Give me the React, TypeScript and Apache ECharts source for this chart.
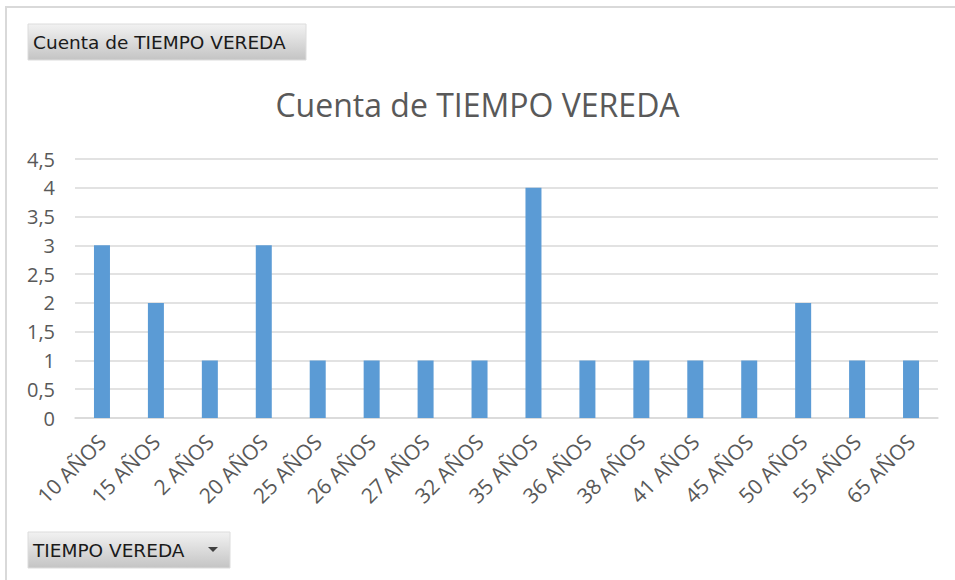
import React, { useEffect, useRef } from "react";
import * as echarts from "echarts";

const categories = [
  "10 AÑOS", "15 AÑOS", "2 AÑOS", "20 AÑOS", "25 AÑOS", "26 AÑOS", "27 AÑOS", "32 AÑOS",
  "35 AÑOS", "36 AÑOS", "38 AÑOS", "41 AÑOS", "45 AÑOS", "50 AÑOS", "55 AÑOS", "65 AÑOS",
];
const counts = [3, 2, 1, 3, 1, 1, 1, 1, 4, 1, 1, 1, 1, 2, 1, 1];
const titleText = "Cuenta de TIEMPO VEREDA";
const valueButtonText = "Cuenta de TIEMPO VEREDA";
const fieldButtonText = "TIEMPO VEREDA";

const FONT = "'Open Sans', 'Noto Sans', sans-serif";
const BTN_FONT = "'DejaVu Sans', sans-serif";

export default function App() {
  const ref = useRef<HTMLDivElement>(null);
  useEffect(() => {
    const chart = echarts.init(ref.current!, null, { renderer: "svg" });
    const btnFill = new echarts.graphic.LinearGradient(0, 0, 0, 1, [
      { offset: 0, color: "#f2f2f2" },
      { offset: 1, color: "#c4c4c4" },
    ]);
    chart.setOption({
      animation: false,
      backgroundColor: "#ffffff",
      title: {
        text: titleText,
        left: "center",
        top: 83,
        textStyle: { fontFamily: FONT, fontSize: 32, fontWeight: "normal", color: "#595959" },
      },
      grid: { left: 75, right: 17, top: 159, bottom: 162, containLabel: false },
      xAxis: {
        type: "category",
        data: categories,
        axisLine: { lineStyle: { color: "#d9d9d9", width: 1.5 } },
        axisTick: { show: false },
        axisLabel: {
          rotate: 45,
          interval: 0,
          fontFamily: FONT,
          fontSize: 21,
          color: "#595959",
          margin: 20,
        },
      },
      yAxis: {
        type: "value",
        min: 0,
        max: 4.5,
        interval: 0.5,
        axisLine: { show: false },
        axisTick: { show: false },
        splitLine: { lineStyle: { color: "#d9d9d9", width: 1.5 } },
        axisLabel: {
          fontFamily: FONT,
          fontSize: 20,
          color: "#595959",
          margin: 20,
          formatter: (v: number) => String(v).replace(".", ","),
        },
      },
      series: [
        {
          type: "bar",
          data: counts,
          barWidth: 16,
          itemStyle: { color: "#5b9bd5" },
        },
      ],
      graphic: [
        {
          type: "rect",
          shape: { x: 6, y: 7, width: 970, height: 600 },
          style: { fill: "none", stroke: "#d9d9d9", lineWidth: 2 },
          silent: true,
        },
        {
          type: "group",
          children: [
            {
              type: "rect",
              shape: { x: 28, y: 24, width: 278, height: 36 },
              style: { fill: btnFill, stroke: "#dcdcdc", lineWidth: 1 },
            },
            {
              type: "text",
              x: 33,
              y: 42,
              style: {
                text: valueButtonText,
                fontFamily: BTN_FONT,
                fontSize: 18.5,
                fill: "#1a1a1a",
                verticalAlign: "middle",
              },
            },
          ],
        },
        {
          type: "group",
          children: [
            {
              type: "rect",
              shape: { x: 28, y: 532, width: 202, height: 36 },
              style: { fill: btnFill, stroke: "#dcdcdc", lineWidth: 1 },
            },
            {
              type: "text",
              x: 33,
              y: 550,
              style: {
                text: fieldButtonText,
                fontFamily: BTN_FONT,
                fontSize: 18.5,
                fill: "#1a1a1a",
                verticalAlign: "middle",
              },
            },
            {
              type: "polygon",
              shape: { points: [[208, 547], [218, 547], [213, 552]] },
              style: { fill: "#404040" },
            },
          ],
        },
      ],
    });
    return () => chart.dispose();
  }, []);
  return (
    <div
      ref={ref}
      style={{ position: "absolute", left: 0, top: 0, width: 955, height: 580 }}
    />
  );
}
